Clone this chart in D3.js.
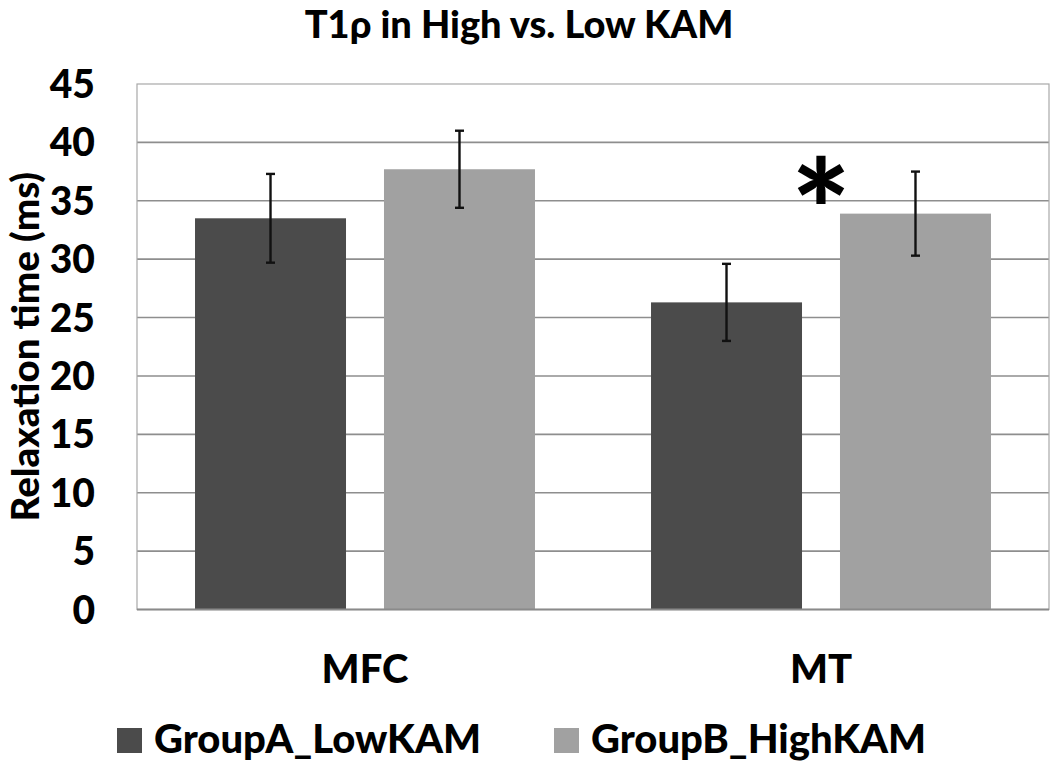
<!DOCTYPE html>
<html>
<head>
<meta charset="utf-8">
<script src="https://cdn.jsdelivr.net/npm/d3@7"></script>
<style>
  html, body { margin: 0; padding: 0; background: #fff; }
  svg { display: block; font-family: Lato, "Open Sans", sans-serif; font-weight: 900; }
</style>
</head>
<body>
<svg id="chart" width="1050" height="764"></svg>
<script>
// ---- data ----
const categories = ["MFC", "MT"];
const groups = ["GroupA_LowKAM", "GroupB_HighKAM"];
const groupA_means = [33.5, 26.3];
const groupA_errors = [3.8, 3.3];
const groupB_means = [37.7, 33.9];
const groupB_errors = [3.3, 3.6];
const yTicks = [0, 5, 10, 15, 20, 25, 30, 35, 40, 45];
const significance = [{ category: "MT", label: "*", value: 36.8 }];
const titleText = "T1\u03C1 in High vs. Low KAM";
const yLabelText = "Relaxation time (ms)";

const colors = { GroupA_LowKAM: "#4b4b4b", GroupB_HighKAM: "#a1a1a1" };

const rows = [];
categories.forEach((c, i) => {
  rows.push({ category: c, group: groups[0], mean: groupA_means[i], err: groupA_errors[i] });
  rows.push({ category: c, group: groups[1], mean: groupB_means[i], err: groupB_errors[i] });
});

// ---- layout ----
const svg = d3.select("#chart");
const plot = { left: 137, right: 1049, top: 84, bottom: 609.5 };

const x0 = d3.scaleBand().domain(categories).range([plot.left, plot.right]).padding(0);
const x1 = d3.scaleBand().domain(groups).range([0, x0.bandwidth()])
  .paddingInner(0.201).paddingOuter(0.307);
const y = d3.scaleLinear().domain([0, 45]).range([plot.bottom, plot.top]);

// gridlines
svg.append("g")
  .selectAll("line")
  .data(yTicks.filter(t => t > 0 && t < 45))
  .join("line")
  .attr("x1", plot.left).attr("x2", plot.right)
  .attr("y1", d => y(d)).attr("y2", d => y(d))
  .attr("stroke", "#8e8e8e").attr("stroke-width", 1.6);

// plot border
svg.append("rect")
  .attr("x", plot.left).attr("y", plot.top)
  .attr("width", plot.right - plot.left).attr("height", plot.bottom - plot.top)
  .attr("fill", "none").attr("stroke", "#a8a8a8").attr("stroke-width", 1.2);

// bars
svg.append("g")
  .selectAll("rect")
  .data(rows)
  .join("rect")
  .attr("x", d => x0(d.category) + x1(d.group))
  .attr("y", d => y(d.mean))
  .attr("width", x1.bandwidth())
  .attr("height", d => y(0) - y(d.mean))
  .attr("fill", d => colors[d.group]);

// baseline
svg.append("line")
  .attr("x1", plot.left).attr("x2", plot.right)
  .attr("y1", y(0)).attr("y2", y(0))
  .attr("stroke", "#8a8a8a").attr("stroke-width", 1.8);

// error bars
const eb = svg.append("g").attr("stroke", "#111").attr("stroke-width", 2.4);
rows.forEach(d => {
  const cx = x0(d.category) + x1(d.group) + x1.bandwidth() / 2;
  eb.append("line").attr("x1", cx).attr("x2", cx)
    .attr("y1", y(d.mean + d.err)).attr("y2", y(d.mean - d.err));
  [d.mean + d.err, d.mean - d.err].forEach(v => {
    eb.append("line").attr("x1", cx - 4.5).attr("x2", cx + 4.5)
      .attr("y1", y(v)).attr("y2", y(v));
  });
});

// significance marker
svg.append("g")
  .selectAll("text")
  .data(significance)
  .join("text")
  .attr("x", d => x0(d.category) + x0.bandwidth() / 2)
  .attr("y", d => y(d.value))
  .attr("text-anchor", "middle")
  .attr("dy", "0.585em")
  .attr("font-size", 140)
  .attr("fill", "#000")
  .text(d => d.label);

// y tick labels
svg.append("g")
  .selectAll("text")
  .data(yTicks)
  .join("text")
  .attr("x", 95)
  .attr("y", d => y(d))
  .attr("dy", "0.36em")
  .attr("text-anchor", "end")
  .attr("font-size", 39)
  .attr("fill", "#000")
  .text(d => d);

// y axis label
svg.append("text")
  .attr("transform", `translate(39,${(plot.top + plot.bottom) / 2}) rotate(-90)`)
  .attr("text-anchor", "middle")
  .attr("font-size", 38.5)
  .attr("fill", "#000")
  .text(yLabelText);

// category labels
svg.append("g")
  .selectAll("text")
  .data(categories)
  .join("text")
  .attr("x", d => x0(d) + x0.bandwidth() / 2)
  .attr("y", 683)
  .attr("text-anchor", "middle")
  .attr("font-size", 40)
  .attr("fill", "#000")
  .text(d => d);

// title
svg.append("text")
  .attr("x", 519).attr("y", 38)
  .attr("text-anchor", "middle")
  .attr("font-size", 38)
  .attr("fill", "#000")
  .text(titleText);

// legend
const legendX = [117, 554];
const lg = svg.append("g");
groups.forEach((g, i) => {
  lg.append("rect").attr("x", legendX[i]).attr("y", 728)
    .attr("width", 25).attr("height", 25).attr("fill", colors[g]);
  lg.append("text").attr("x", legendX[i] + 37).attr("y", 753)
    .attr("font-size", 40).attr("fill", "#000").text(g);
});
</script>
</body>
</html>
